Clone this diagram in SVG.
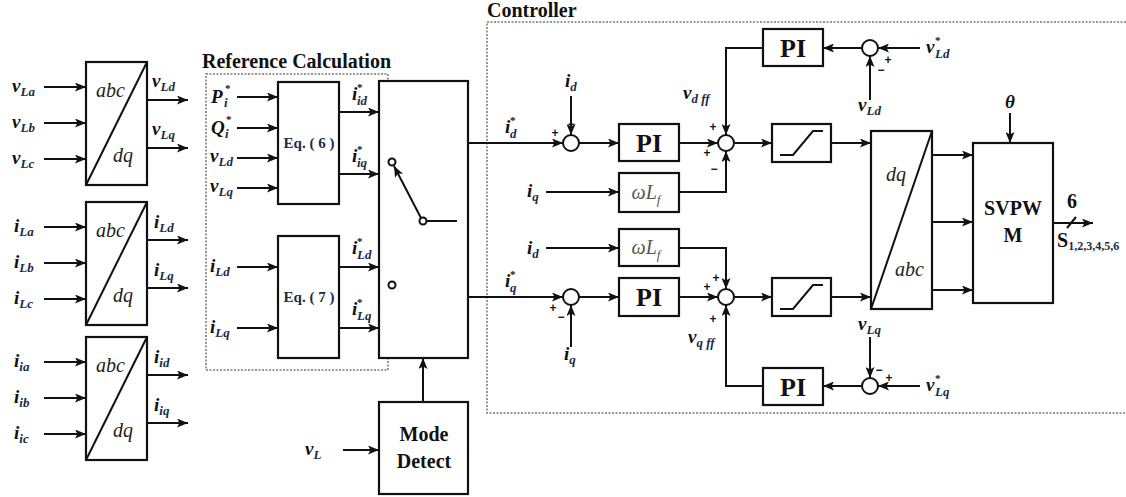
<svg xmlns="http://www.w3.org/2000/svg" width="1126" height="497" viewBox="0 0 1126 497">
<style>
.bx{fill:#fff;stroke:#111;stroke-width:2.2}
.ln{fill:none;stroke:#111;stroke-width:2}
.ar{fill:none;stroke:#111;stroke-width:2;marker-end:url(#ah)}
.sm{fill:#fff;stroke:#111;stroke-width:2}
.dash{fill:none;stroke:#777;stroke-width:1.5;stroke-dasharray:2 1.5}
.v{font-family:"Liberation Serif","Times New Roman",serif;font-style:italic;font-weight:bold;font-size:19px;fill:#111}
.sb{font-size:13px;fill:#1b2a48}
.sp{font-size:11px;font-style:normal}
.tt{font-family:"Liberation Serif","Times New Roman",serif;font-weight:bold;font-size:20px;fill:#111}
.it{font-family:"Liberation Serif","Times New Roman",serif;font-style:italic;font-size:20px;fill:#222}
.eq{font-family:"Liberation Serif","Times New Roman",serif;font-weight:bold;font-size:15px;fill:#1b2a48}
.pi{font-family:"Liberation Serif","Times New Roman",serif;font-weight:bold;font-size:26px;fill:#111;text-anchor:middle}
.wl{font-family:"Liberation Serif","Times New Roman",serif;font-style:italic;font-size:20px;fill:#555;text-anchor:middle}
.sg{font-family:"Liberation Sans",sans-serif;font-weight:bold;font-size:12px;fill:#111;text-anchor:middle}
</style>
<defs>
<marker id="ah" viewBox="0 0 11 9" refX="11" refY="4.5" markerWidth="11" markerHeight="9" markerUnits="userSpaceOnUse" orient="auto">
<path d="M0,0 L11,4.5 L0,9 L2.5,4.5 z" fill="#111"/>
</marker>
</defs>

<!-- titles and dashed frames -->
<text class="tt" x="202" y="68">Reference Calculation</text>
<text class="tt" x="487" y="17">Controller</text>
<rect class="dash" x="206" y="74" width="182" height="296"/>
<path class="dash" d="M1126,22 H487 V413 H1126"/>

<!-- abc/dq transforms -->
<g id="tr-vL">
<rect class="bx" x="86" y="62" width="61" height="123"/>
<line class="ln" x1="86" y1="185" x2="147" y2="62"/>
<text class="it" x="96" y="97">abc</text>
<text class="it" x="113" y="162">dq</text>
</g>
<g id="tr-iL">
<rect class="bx" x="86" y="202" width="61" height="123"/>
<line class="ln" x1="86" y1="325" x2="147" y2="202"/>
<text class="it" x="96" y="237">abc</text>
<text class="it" x="113" y="302">dq</text>
</g>
<g id="tr-ii">
<rect class="bx" x="86" y="337" width="61" height="123"/>
<line class="ln" x1="86" y1="460" x2="147" y2="337"/>
<text class="it" x="96" y="372">abc</text>
<text class="it" x="113" y="437">dq</text>
</g>

<!-- reference calc -->
<g id="eq6">
<rect class="bx" x="278" y="82" width="61" height="122"/>
<text class="eq" x="309" y="148" text-anchor="middle">Eq. ( 6 )</text>
</g>
<g id="eq7">
<rect class="bx" x="278" y="236" width="61" height="122"/>
<text class="eq" x="309" y="302" text-anchor="middle">Eq. ( 7 )</text>
</g>
<g id="switch">
<rect class="bx" x="379" y="81" width="89" height="277"/>
<circle class="sm" cx="392" cy="162" r="3.5"/>
<circle class="sm" cx="423" cy="221" r="3.5"/>
<circle class="sm" cx="392" cy="285" r="3.5"/>
<line class="ar" x1="421" y1="218" x2="394" y2="166"/>
<line class="ln" x1="426.5" y1="221" x2="457" y2="221"/>
</g>
<g id="mode">
<rect class="bx" x="379" y="402" width="89" height="92"/>
<text class="tt" x="424" y="441" text-anchor="middle" font-size="23">Mode</text>
<text class="tt" x="424" y="468" text-anchor="middle" font-size="23">Detect</text>
</g>

<!-- controller blocks -->
<g id="sum1"><circle class="sm" cx="571" cy="143" r="8"/></g>
<g id="pi1"><rect class="bx" x="619" y="124" width="60" height="37"/><text class="pi" x="649" y="152">PI</text></g>
<g id="wl1"><rect class="bx" x="619" y="173" width="60" height="39"/><text class="wl" x="646" y="199">ωL<tspan font-size="13" dy="5">f</tspan></text></g>
<g id="sum2"><circle class="sm" cx="726" cy="143" r="8"/></g>
<g id="lim1"><rect class="bx" x="772" y="124" width="59" height="38"/><path class="ln" d="M780,155 H793 L813,131 H823"/></g>
<g id="pi-top"><rect class="bx" x="763" y="29" width="60" height="37"/><text class="pi" x="793" y="57">PI</text></g>
<g id="sum-top"><circle class="sm" cx="870" cy="48" r="8"/></g>

<g id="sum3"><circle class="sm" cx="571" cy="297" r="8"/></g>
<g id="pi2"><rect class="bx" x="619" y="278" width="60" height="38"/><text class="pi" x="649" y="306">PI</text></g>
<g id="wl2"><rect class="bx" x="619" y="229" width="60" height="37"/><text class="wl" x="646" y="254">ωL<tspan font-size="13" dy="5">f</tspan></text></g>
<g id="sum4"><circle class="sm" cx="726" cy="297" r="8"/></g>
<g id="lim2"><rect class="bx" x="772" y="278" width="59" height="38"/><path class="ln" d="M780,309 H793 L813,285 H823"/></g>
<g id="pi-bot"><rect class="bx" x="763" y="368" width="60" height="37"/><text class="pi" x="793" y="396">PI</text></g>
<g id="sum-bot"><circle class="sm" cx="870" cy="386" r="8"/></g>

<g id="dqabc">
<rect class="bx" x="871" y="131" width="61" height="178"/>
<line class="ln" x1="871" y1="309" x2="932" y2="131"/>
<text class="it" x="886" y="181">dq</text>
<text class="it" x="895" y="276">abc</text>
</g>
<g id="svpwm">
<rect class="bx" x="973" y="143" width="80" height="160"/>
<text class="tt" x="1013" y="215" text-anchor="middle">SVPW</text>
<text class="tt" x="1013" y="242" text-anchor="middle">M</text>
</g>

<!-- connectors -->
<g id="connectors">
<line class="ar" x1="44" y1="87" x2="86" y2="87"/>
<line class="ar" x1="44" y1="123" x2="86" y2="123"/>
<line class="ar" x1="44" y1="159" x2="86" y2="159"/>
<line class="ar" x1="147" y1="100" x2="188" y2="100"/>
<line class="ar" x1="147" y1="148" x2="188" y2="148"/>
<line class="ar" x1="44" y1="227" x2="86" y2="227"/>
<line class="ar" x1="44" y1="263" x2="86" y2="263"/>
<line class="ar" x1="44" y1="299" x2="86" y2="299"/>
<line class="ar" x1="147" y1="240" x2="188" y2="240"/>
<line class="ar" x1="147" y1="288" x2="188" y2="288"/>
<line class="ar" x1="44" y1="362" x2="86" y2="362"/>
<line class="ar" x1="44" y1="398" x2="86" y2="398"/>
<line class="ar" x1="44" y1="434" x2="86" y2="434"/>
<line class="ar" x1="147" y1="375" x2="188" y2="375"/>
<line class="ar" x1="147" y1="423" x2="188" y2="423"/>

<line class="ar" x1="237" y1="97" x2="278" y2="97"/>
<line class="ar" x1="237" y1="128" x2="278" y2="128"/>
<line class="ar" x1="237" y1="158" x2="278" y2="158"/>
<line class="ar" x1="237" y1="188" x2="278" y2="188"/>
<line class="ar" x1="339" y1="112" x2="379" y2="112"/>
<line class="ar" x1="339" y1="174" x2="379" y2="174"/>
<line class="ar" x1="237" y1="267" x2="278" y2="267"/>
<line class="ar" x1="237" y1="328" x2="278" y2="328"/>
<line class="ar" x1="339" y1="267" x2="379" y2="267"/>
<line class="ar" x1="339" y1="328" x2="379" y2="328"/>
<line class="ar" x1="343" y1="450" x2="379" y2="450"/>
<line class="ar" x1="423" y1="402" x2="423" y2="358"/>

<line class="ar" x1="468" y1="143" x2="563" y2="143"/>
<line class="ar" x1="571" y1="96" x2="571" y2="135"/>
<line class="ar" x1="579" y1="143" x2="619" y2="143"/>
<line class="ar" x1="679" y1="143" x2="718" y2="143"/>
<path class="ar" d="M763,48 H726 V135"/>
<line class="ar" x1="546" y1="192" x2="619" y2="192"/>
<path class="ar" d="M679,192 H726 V151"/>
<line class="ar" x1="734" y1="143" x2="772" y2="143"/>
<line class="ar" x1="831" y1="143" x2="871" y2="143"/>
<line class="ar" x1="862" y1="48" x2="823" y2="48"/>
<line class="ar" x1="920" y1="48" x2="878" y2="48"/>
<line class="ar" x1="870" y1="100" x2="870" y2="56"/>

<line class="ar" x1="468" y1="297" x2="563" y2="297"/>
<line class="ar" x1="571" y1="347" x2="571" y2="305"/>
<line class="ar" x1="579" y1="297" x2="619" y2="297"/>
<line class="ar" x1="679" y1="297" x2="718" y2="297"/>
<line class="ar" x1="546" y1="248" x2="619" y2="248"/>
<path class="ar" d="M679,248 H726 V289"/>
<path class="ar" d="M763,386 H726 V305"/>
<line class="ar" x1="734" y1="297" x2="772" y2="297"/>
<line class="ar" x1="831" y1="297" x2="871" y2="297"/>
<line class="ar" x1="862" y1="386" x2="823" y2="386"/>
<line class="ar" x1="920" y1="386" x2="878" y2="386"/>
<line class="ar" x1="870" y1="337" x2="870" y2="378"/>

<line class="ar" x1="932" y1="155" x2="973" y2="155"/>
<line class="ar" x1="932" y1="222" x2="973" y2="222"/>
<line class="ar" x1="932" y1="290" x2="973" y2="290"/>
<line class="ar" x1="1010" y1="113" x2="1010" y2="143"/>
<line class="ar" x1="1053" y1="223" x2="1093" y2="223"/>
<line class="ln" x1="1067" y1="228" x2="1076" y2="217"/>
</g>

<!-- labels -->
<g id="labels">
<text class="v" x="12" y="92">v<tspan class="sb" dy="4">La</tspan></text>
<text class="v" x="12" y="128">v<tspan class="sb" dy="4">Lb</tspan></text>
<text class="v" x="12" y="164">v<tspan class="sb" dy="4">Lc</tspan></text>
<text class="v" x="152" y="87">v<tspan class="sb" dy="4">Ld</tspan></text>
<text class="v" x="152" y="135">v<tspan class="sb" dy="4">Lq</tspan></text>
<text class="v" x="14" y="232">i<tspan class="sb" dy="4">La</tspan></text>
<text class="v" x="14" y="268">i<tspan class="sb" dy="4">Lb</tspan></text>
<text class="v" x="14" y="304">i<tspan class="sb" dy="4">Lc</tspan></text>
<text class="v" x="154" y="228">i<tspan class="sb" dy="4">Ld</tspan></text>
<text class="v" x="154" y="276">i<tspan class="sb" dy="4">Lq</tspan></text>
<text class="v" x="14" y="367">i<tspan class="sb" dy="4">ia</tspan></text>
<text class="v" x="14" y="403">i<tspan class="sb" dy="4">ib</tspan></text>
<text class="v" x="14" y="439">i<tspan class="sb" dy="4">ic</tspan></text>
<text class="v" x="154" y="363">i<tspan class="sb" dy="4">id</tspan></text>
<text class="v" x="154" y="411">i<tspan class="sb" dy="4">iq</tspan></text>

<text class="v" x="211" y="103" font-size="22" font-weight="normal">P<tspan class="sp" x="225" dy="-11">*</tspan><tspan class="sb" x="224" dy="15">i</tspan></text>
<text class="v" x="211" y="134" font-size="22" font-weight="normal">Q<tspan class="sp" x="226" dy="-11">*</tspan><tspan class="sb" x="225" dy="15">i</tspan></text>
<text class="v" x="210" y="162">v<tspan class="sb" dy="4">Ld</tspan></text>
<text class="v" x="210" y="192">v<tspan class="sb" dy="4">Lq</tspan></text>
<text class="v" x="352" y="100">i<tspan class="sp" x="357" dy="-9">*</tspan><tspan class="sb" x="357" dy="14">id</tspan></text>
<text class="v" x="352" y="162">i<tspan class="sp" x="357" dy="-9">*</tspan><tspan class="sb" x="357" dy="14">iq</tspan></text>
<text class="v" x="210" y="272">i<tspan class="sb" dy="4">Ld</tspan></text>
<text class="v" x="210" y="333">i<tspan class="sb" dy="4">Lq</tspan></text>
<text class="v" x="352" y="254">i<tspan class="sp" x="357" dy="-9">*</tspan><tspan class="sb" x="357" dy="14">Ld</tspan></text>
<text class="v" x="352" y="315">i<tspan class="sp" x="357" dy="-9">*</tspan><tspan class="sb" x="357" dy="14">Lq</tspan></text>
<text class="v" x="305" y="455">v<tspan class="sb" dy="4">L</tspan></text>

<text class="v" x="505" y="133" font-weight="normal">i<tspan class="sp" x="510" dy="-9">*</tspan><tspan class="sb" x="510" dy="14">d</tspan></text>
<text class="v" x="565" y="87">i<tspan class="sb" dy="4">d</tspan></text>
<text class="v" x="527" y="197">i<tspan class="sb" dy="4">q</tspan></text>
<text class="v" x="683" y="99" font-weight="normal">v<tspan class="sb" dy="4">d ff</tspan></text>
<text class="v" x="858" y="111" font-weight="normal">v<tspan class="sb" dy="4">Ld</tspan></text>
<text class="v" x="926" y="53" font-weight="normal">v<tspan class="sp" x="935" dy="-9">*</tspan><tspan class="sb" x="935" dy="14">Ld</tspan></text>
<text class="v" x="1010" y="108" font-size="24" text-anchor="middle">θ</text>
<text class="tt" x="1072" y="208" text-anchor="middle" font-size="19">6</text>
<text class="tt" x="1057" y="247">S<tspan font-size="12" fill="#1b2a48" dy="3">1,2,3,4,5,6</tspan></text>

<text class="v" x="527" y="254">i<tspan class="sb" dy="4">d</tspan></text>
<text class="v" x="505" y="287" font-weight="normal">i<tspan class="sp" x="510" dy="-9">*</tspan><tspan class="sb" x="510" dy="14">q</tspan></text>
<text class="v" x="564" y="360">i<tspan class="sb" dy="4">q</tspan></text>
<text class="v" x="688" y="343" font-weight="normal">v<tspan class="sb" dy="4">q ff</tspan></text>
<text class="v" x="858" y="330" font-weight="normal">v<tspan class="sb" dy="4">Lq</tspan></text>
<text class="v" x="926" y="391" font-weight="normal">v<tspan class="sp" x="935" dy="-9">*</tspan><tspan class="sb" x="935" dy="14">Lq</tspan></text>

<text class="sg" x="555" y="137">+</text>
<text class="sg" x="571" y="128">−</text>
<text class="sg" x="713" y="131">+</text>
<text class="sg" x="707" y="157">+</text>
<text class="sg" x="714" y="173">−</text>
<text class="sg" x="888" y="64">+</text>
<text class="sg" x="881" y="74">−</text>
<text class="sg" x="553" y="312">+</text>
<text class="sg" x="561" y="321">−</text>
<text class="sg" x="707" y="291">+</text>
<text class="sg" x="716" y="282">+</text>
<text class="sg" x="713" y="323">+</text>
<text class="sg" x="879" y="374">−</text>
<text class="sg" x="889" y="382">+</text>
</g>
</svg>
